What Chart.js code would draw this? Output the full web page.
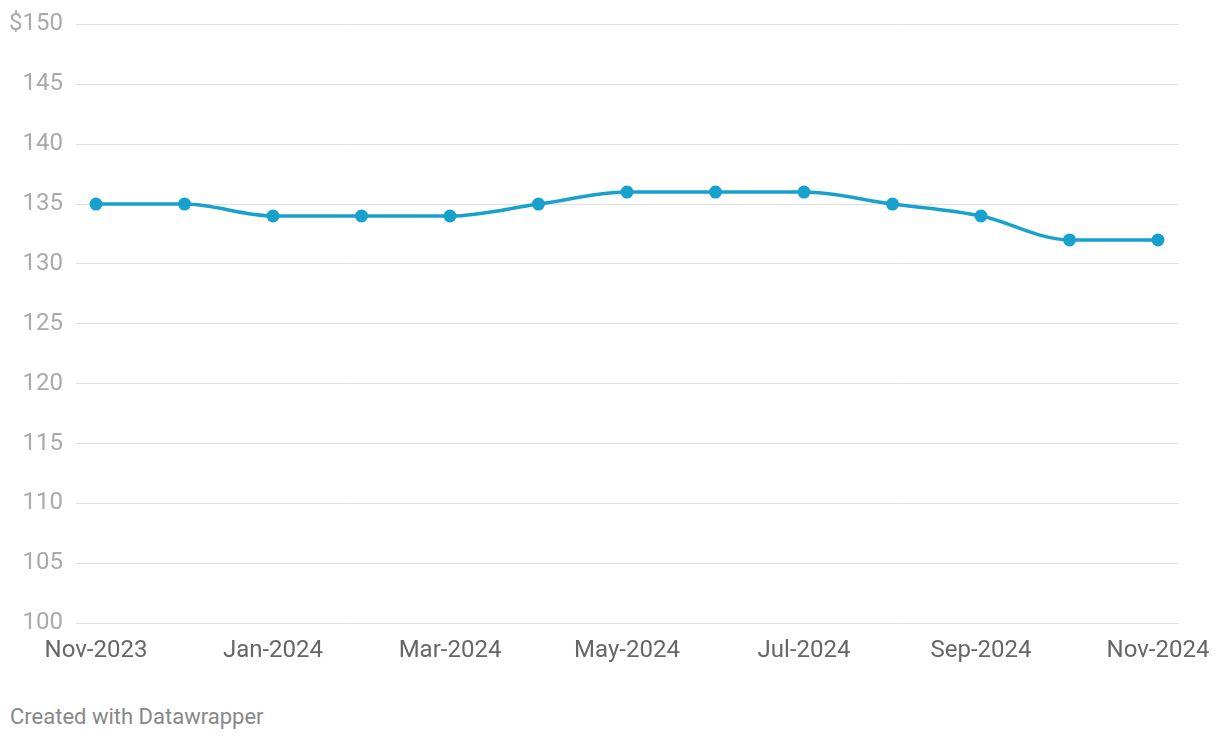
<!DOCTYPE html>
<html>
<head>
<meta charset="utf-8">
<script src="https://cdn.jsdelivr.net/npm/chart.js@4"></script>
<style>
  body { margin: 0; background: #fff; font-family: Roboto, sans-serif; overflow: hidden; }
  #wrap { position: absolute; left: 0; top: -3px; width: 1220px; height: 673px; }
  #nota { position: absolute; left: 10px; top: 704px; font-size: 22px; color: #888; font-family: Roboto, sans-serif; }
</style>
</head>
<body>
<div id="wrap"><canvas id="tabla"></canvas></div>
<div id="nota">Created with Datawrapper</div>
<script>
// Datos del gráfico
var meses   = ['Nov-2023', 'Dec-2023', 'Jan-2024', 'Feb-2024', 'Mar-2024', 'Apr-2024', 'May-2024',
               'Jun-2024', 'Jul-2024', 'Aug-2024', 'Sep-2024', 'Oct-2024', 'Nov-2024'];
var precios = [135, 135, 134, 134, 134, 135, 136, 136, 136, 135, 134, 132, 132];
var ticksX  = [0, 2, 4, 6, 8, 10, 12]; // meses con etiqueta
var ticksY  = [100, 105, 110, 115, 120, 125, 130, 135, 140, 145, 150];

const ctx = document.getElementById('tabla').getContext('2d');

var puntos = precios.map(function (v, i) { return { x: i, y: v }; });

var miGrafico = new Chart(ctx, {
    type: 'line',
    data: {
        datasets: [{
            data: puntos,
            borderColor: '#18a1cd',
            backgroundColor: '#18a1cd',
            borderWidth: 3.5,
            pointRadius: 6.5,
            pointHoverRadius: 6.5,
            pointBorderWidth: 0,
            cubicInterpolationMode: 'monotone'
        }]
    },
    options: {
        responsive: true,
        maintainAspectRatio: false,
        animation: false,
        layout: { padding: { left: 10, right: 42, top: 7, bottom: 0 } },
        plugins: { legend: { display: false }, tooltip: { enabled: false } },
        scales: {
            x: {
                type: 'linear',
                min: -0.226,
                max: 12.226,
                afterBuildTicks: function (scale) {
                    scale.ticks = ticksX.map(function (v) { return { value: v }; });
                },
                grid: { display: false },
                border: { display: false },
                ticks: {
                    autoSkip: false,
                    maxRotation: 0,
                    padding: 5,
                    color: '#666',
                    font: { family: 'Roboto', size: 24 },
                    callback: function (v) { return meses[v]; }
                }
            },
            y: {
                min: 100,
                max: 150,
                afterBuildTicks: function (scale) {
                    scale.ticks = ticksY.map(function (v) { return { value: v }; });
                },
                afterFit: function (scale) { scale.width = 66; },
                grid: { color: '#e0e0e0', lineWidth: 1, drawTicks: false },
                border: { display: false },
                ticks: {
                    padding: 13,
                    color: '#aaa',
                    font: { family: 'Roboto', size: 24 },
                    callback: function (v) { return v === 150 ? '$150' : v; }
                }
            }
        }
    }
});
</script>
</body>
</html>
